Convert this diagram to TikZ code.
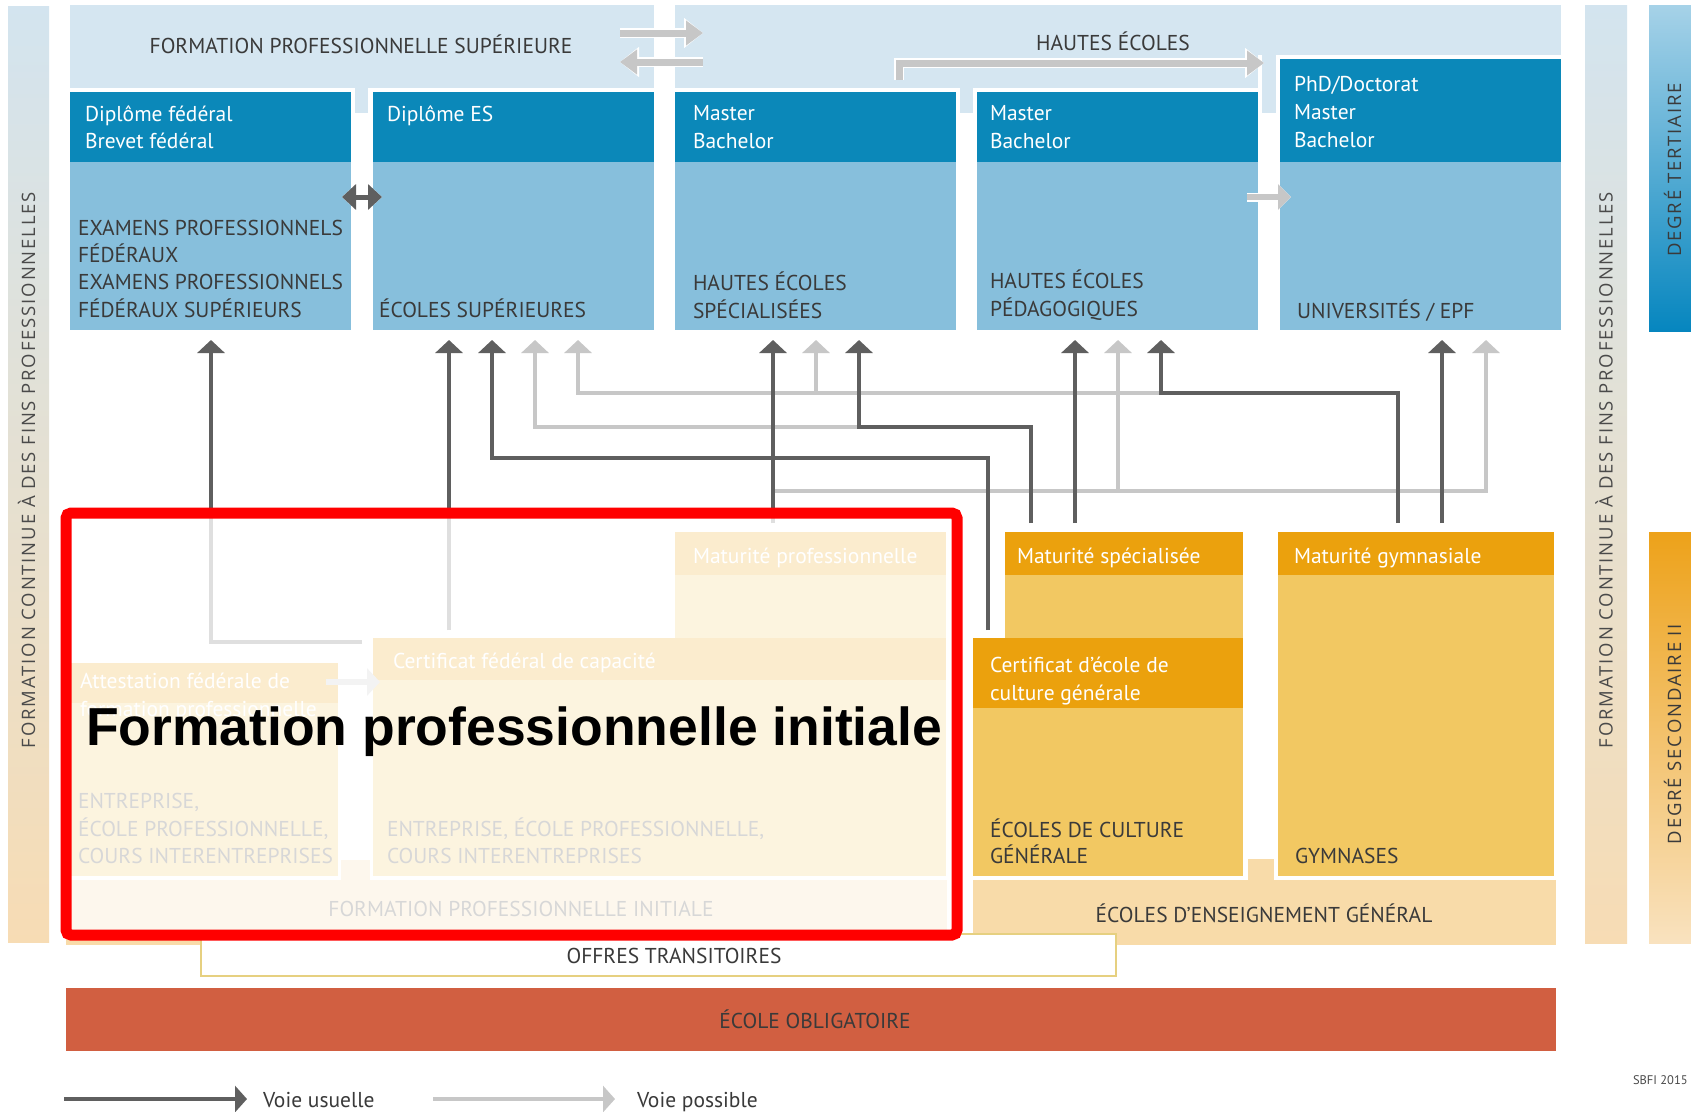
\documentclass[tikz,border=0pt]{standalone}
\usepackage{fontspec}
\setmainfont{PT Sans}
\newfontfamily\widefont{Open Sans}[LetterSpace=10]
\newfontfamily\arialfont{Liberation Sans}
\usetikzlibrary{arrows.meta}
\definecolor{bandblue}{HTML}{D5E6F1}
\definecolor{hdrblue}{HTML}{0B88B9}
\definecolor{bodyblue}{HTML}{87BFDC}
\definecolor{tdark}{HTML}{3A3A3A}
\definecolor{adark}{HTML}{5F5F5F}
\definecolor{alight}{HTML}{C7C7C7}
\definecolor{orghdr}{HTML}{EBA10D}
\definecolor{orgbody}{HTML}{F2C862}
\definecolor{orglight}{HTML}{F8DBA9}
\definecolor{oblig}{HTML}{D15F41}
\definecolor{offborder}{HTML}{E6D080}
\definecolor{vtxt}{HTML}{4A4A4A}
\definecolor{sidetop}{HTML}{D3E4EF}
\definecolor{sidemid}{HTML}{E3E3E0}
\definecolor{sidebot}{HTML}{F7DCB4}
\definecolor{tertop}{HTML}{A6D2E8}
\definecolor{terbot}{HTML}{0686BF}
\definecolor{sectop}{HTML}{EDA21A}
\definecolor{secbot}{HTML}{F9E2BF}
\newcommand\fs{\fontsize{21.5}{26}\selectfont}
\newcommand\boxnode[6]{\pgfmathsetmacro\bw{#4-#2}\pgfmathsetmacro\bh{#5-#3}%
  \node[boxstyle, fill=#6, minimum width=\bw pt, minimum height=\bh pt] (#1) at (#2,#3) {};}
\begin{document}
\begin{tikzpicture}[x=1pt,y=-1pt,
  boxstyle/.style={inner sep=0pt, outer sep=0pt, anchor=north west, draw=none},
  lbl/.style={inner sep=0pt, outer sep=0pt, anchor=base west, font=\fs, text=tdark},
  wlbl/.style={lbl, text=white},
  clbl/.style={lbl, anchor=base},
  vlbl/.style={inner sep=0pt, outer sep=0pt, anchor=base, rotate=90, font=\widefont\fontsize{18.5}{21}\selectfont, text=vtxt},
  darkarr/.style={draw=adark, line width=3.5pt, -{Triangle[length=13pt,width=27pt]}},
  lightarr/.style={draw=alight, line width=3.5pt, -{Triangle[length=13pt,width=27pt]}},
  fatlight/.style={draw=alight, line width=7pt, -{Triangle[length=17pt,width=24pt]},
     preaction={draw=white, line width=10pt, -{Triangle[length=19pt,width=29pt]}}},
]
\useasboundingbox (0,0) rectangle (1691,1111);
\fill[white] (0,0) rectangle (1691,1111);

% side bars
\shade[top color=sidetop, middle color=sidemid, bottom color=sidebot] (8,6) rectangle (49,942);
\shade[top color=sidetop, middle color=sidemid, bottom color=sidebot] (1585,5) rectangle (1627,943);
\shade[top color=tertop, bottom color=terbot] (1649,5) rectangle (1691,331);
\shade[top color=sectop, bottom color=secbot] (1649,532) rectangle (1691,943);
\node[vlbl] (lside) at (35,470) {FORMATION CONTINUE À DES FINS PROFESSIONNELLES};
\node[vlbl] (rside) at (1612.5,470) {FORMATION CONTINUE À DES FINS PROFESSIONNELLES};
\node[vlbl, text=tdark] (tert) at (1681,170) {DEGRÉ TERTIAIRE};
\node[vlbl, text=tdark] (secII) at (1681,734) {DEGRÉ SECONDAIRE II};

% top bands
\boxnode{fps}{70}{5}{654}{88}{bandblue}
\boxnode{fpstab}{355}{88}{368}{113}{bandblue}
\boxnode{he}{675}{5}{1561}{55}{bandblue}
\boxnode{heleft}{675}{55}{1258}{88}{bandblue}
\boxnode{hetabA}{960}{88}{973}{113}{bandblue}
\boxnode{hetabB}{1262}{55}{1276}{113}{bandblue}
\node[clbl] (fpslbl) at (361,53) {FORMATION PROFESSIONNELLE SUPÉRIEURE};
\node[clbl] (helbl) at (1113,50) {HAUTES ÉCOLES};

% tertiary boxes
\boxnode{b1h}{70}{92}{351}{162}{hdrblue}
\boxnode{b1b}{70}{162}{351}{330}{bodyblue}
\boxnode{b2h}{373}{92}{654}{162}{hdrblue}
\boxnode{b2b}{373}{162}{654}{330}{bodyblue}
\boxnode{b3h}{675}{92}{956}{162}{hdrblue}
\boxnode{b3b}{675}{162}{956}{330}{bodyblue}
\boxnode{b4h}{977}{92}{1258}{162}{hdrblue}
\boxnode{b4b}{977}{162}{1258}{330}{bodyblue}
\boxnode{b5h}{1280}{59}{1561}{162}{hdrblue}
\boxnode{b5b}{1280}{162}{1561}{330}{bodyblue}

\node[wlbl] (t1a) at (85,121) {Diplôme fédéral};
\node[wlbl] (t1b) at (85,148) {Brevet fédéral};
\node[lbl] (t1c) at (78,235) {EXAMENS PROFESSIONNELS};
\node[lbl] (t1d) at (78,262) {FÉDÉRAUX};
\node[lbl] (t1e) at (78,289) {EXAMENS PROFESSIONNELS};
\node[lbl] (t1f) at (78,317) {FÉDÉRAUX SUPÉRIEURS};
\node[wlbl] (t2a) at (387,121) {Diplôme ES};
\node[lbl] (t2b) at (379,317) {ÉCOLES SUPÉRIEURES};
\node[wlbl] (t3a) at (693,120) {Master};
\node[wlbl] (t3b) at (693,148) {Bachelor};
\node[lbl] (t3c) at (693,290) {HAUTES ÉCOLES};
\node[lbl] (t3d) at (693,318) {SPÉCIALISÉES};
\node[wlbl] (t4a) at (990,120) {Master};
\node[wlbl] (t4b) at (990,148) {Bachelor};
\node[lbl] (t4c) at (990,288) {HAUTES ÉCOLES};
\node[lbl] (t4d) at (990,316) {PÉDAGOGIQUES};
\node[wlbl] (t5a) at (1294,91) {PhD/Doctorat};
\node[wlbl] (t5b) at (1294,119) {Master};
\node[wlbl] (t5c) at (1294,147) {Bachelor};
\node[lbl] (t5d) at (1297,318) {UNIVERSITÉS / EPF};

% top band arrows
\coordinate (fpsA) at (620,33); \coordinate (heA) at (703,33);
\coordinate (heB) at (703,62); \coordinate (fpsB) at (620,62);
\draw[fatlight] (fpsA) -- (heA);
\draw[fatlight] (heB) -- (fpsB);
\coordinate (heS) at (899,80); \coordinate (heT) at (1264,63);
\draw[fatlight] (heS) |- (heT);
\coordinate (dl) at (342,197); \coordinate (dr) at (382,197);
\draw[draw=white, line width=8pt, {Triangle[length=16pt,width=29pt]}-{Triangle[length=16pt,width=29pt]}] (dl) -- (dr);
\draw[draw=adark, line width=5pt, {Triangle[length=14pt,width=25pt]}-{Triangle[length=14pt,width=25pt]}] (dl) -- (dr);
\coordinate (b45s) at (1247,197); \coordinate (b45t) at (1291,197);
\draw[draw=white, line width=9pt, -{Triangle[length=15pt,width=29pt]}] (b45s) -- (b45t);
\draw[draw=alight, line width=6pt, -{Triangle[length=13pt,width=25pt]}] (b45s) -- (b45t);

% secondary II boxes
\boxnode{mph}{675}{532}{946}{575}{orghdr}
\boxnode{mpb}{675}{575}{946}{638}{orgbody}
\boxnode{cfch}{373}{638}{946}{680}{orghdr}
\boxnode{cfcb}{373}{680}{946}{876}{orgbody}
\boxnode{atth}{71}{663}{338}{703}{orghdr}
\boxnode{attb}{71}{703}{338}{876}{orgbody}
\boxnode{fpi}{66}{880}{947}{945}{orglight}
\boxnode{fpitab}{341}{860}{370}{880}{orglight}
\boxnode{msh}{1005}{532}{1243}{575}{orghdr}
\boxnode{msb}{1005}{575}{1243}{638}{orgbody}
\boxnode{ecgh}{973}{638}{1243}{708}{orghdr}
\boxnode{ecgb}{973}{708}{1243}{876}{orgbody}
\boxnode{gymh}{1278}{532}{1554}{575}{orghdr}
\boxnode{gymb}{1278}{575}{1554}{876}{orgbody}
\boxnode{eeg}{973}{880}{1556}{945}{orglight}
\boxnode{eegtab}{1248}{859}{1274}{880}{orglight}
\node[draw=offborder, line width=1.5pt, fill=white, inner sep=0pt, outer sep=0pt, anchor=north west, minimum width=915pt, minimum height=42pt] (offres) at (201,934) {};
\boxnode{oblig}{66}{988}{1556}{1051}{oblig}

\node[wlbl] (s1) at (693,563) {Maturité professionnelle};
\node[wlbl] (s2) at (1017,563) {Maturité spécialisée};
\node[wlbl] (s3) at (1294,563) {Maturité gymnasiale};
\node[wlbl] (s4) at (393,668) {Certificat fédéral de capacité};
\node[wlbl] (s5) at (80,688) {Attestation fédérale de};
\node[wlbl] (s6) at (80,716) {formation professionnelle};
\node[wlbl] (s7) at (990,672) {Certificat d’école de};
\node[wlbl] (s8) at (990,700) {culture générale};
\node[lbl] (s9) at (78,808) {ENTREPRISE,};
\node[lbl] (s10) at (78,836) {ÉCOLE PROFESSIONNELLE,};
\node[lbl] (s11) at (78,863) {COURS INTERENTREPRISES};
\node[lbl] (s12) at (387,836) {ENTREPRISE, ÉCOLE PROFESSIONNELLE,};
\node[lbl] (s13) at (387,863) {COURS INTERENTREPRISES};
\node[clbl] (s14) at (521,916) {FORMATION PROFESSIONNELLE INITIALE};
\node[lbl] (s15) at (990,837) {ÉCOLES DE CULTURE};
\node[lbl] (s16) at (990,863) {GÉNÉRALE};
\node[lbl] (s17) at (1295,863) {GYMNASES};
\node[clbl] (s18) at (1264,922) {ÉCOLES D’ENSEIGNEMENT GÉNÉRAL};
\node[clbl] (s19) at (674,963) {OFFRES TRANSITOIRES};
\node[clbl] (s20) at (815,1028) {ÉCOLE OBLIGATOIRE};

% attestation -> CFC arrow
\coordinate (attA) at (326,682); \coordinate (cfcA) at (380,682);
\draw[draw=alight, line width=6pt, -{Triangle[length=13pt,width=27pt]}] (attA) -- (cfcA);

% pathway arrows: targets
\coordinate (tA1) at (211,340); \coordinate (tA2) at (449,340);
\coordinate (tA3) at (492,340); \coordinate (tA4) at (535,340);
\coordinate (tA5) at (578,340); \coordinate (tB1) at (773,340);
\coordinate (tB2) at (816,340); \coordinate (tB3) at (859,340);
\coordinate (tC1) at (1075,340); \coordinate (tC2) at (1118,340);
\coordinate (tC3) at (1161,340); \coordinate (tD1) at (1442,340);
\coordinate (tD2) at (1486,340);
% sources and junctions
\coordinate (sA1) at (362,642); \coordinate (sA2) at (449,630);
\coordinate (sA3) at (988,630); \coordinate (sB1) at (773,523);
\coordinate (sB3) at (1031,523); \coordinate (sC1) at (1075,523);
\coordinate (sC3) at (1398,523); \coordinate (sD1) at (1442,523);
\coordinate (jC3) at (1161,393); \coordinate (jB2) at (816,393);
\coordinate (jB3) at (859,427); \coordinate (jB1) at (773,491);
\coordinate (jC2) at (1118,491);

\draw[lightarr] (jC3) -- (578,393) -- (tA5);
\draw[lightarr] (jB2) -- (tB2);
\draw[lightarr] (jB3) -- (535,427) -- (tA4);
\draw[lightarr] (jB1) -- (1486,491) -- (tD2);
\draw[lightarr] (jC2) -- (tC2);

\draw[darkarr] (sA1) -| (tA1);
\draw[darkarr] (sA2) -- (tA2);
\draw[darkarr] (sA3) |- (492,458) -- (tA3);
\draw[darkarr] (sB1) -- (tB1);
\draw[darkarr] (sB3) |- (jB3) -- (tB3);
\draw[darkarr] (sC1) -- (tC1);
\draw[darkarr] (sC3) |- (jC3) -- (tC3);
\draw[darkarr] (sD1) -- (tD1);

% legend
\coordinate (lgA) at (64,1099); \coordinate (lgB) at (247,1099);
\coordinate (lgC) at (433,1099); \coordinate (lgD) at (615,1099);
\draw[draw=adark, line width=4pt, -{Triangle[length=12pt,width=26pt]}] (lgA) -- (lgB);
\draw[draw=alight, line width=4pt, -{Triangle[length=12pt,width=26pt]}] (lgC) -- (lgD);
\node[lbl] (lg1) at (263,1107) {Voie usuelle};
\node[lbl] (lg2) at (637,1107) {Voie possible};
\node[lbl, font=\fontsize{12.5}{14}\selectfont, text=vtxt] (sbfi) at (1633,1084) {SBFI 2015};

% highlight overlay
\fill[white, fill opacity=0.8] (66,513) rectangle (957,935);
\draw[red, line width=11pt, rounded corners=5pt] (66,513) rectangle (957,935);
\node[inner sep=0pt, outer sep=0pt, anchor=base west, font=\arialfont\bfseries\fontsize{53.5}{60}\selectfont] (big) at (86,745) {Formation professionnelle initiale};
\end{tikzpicture}
\end{document}
